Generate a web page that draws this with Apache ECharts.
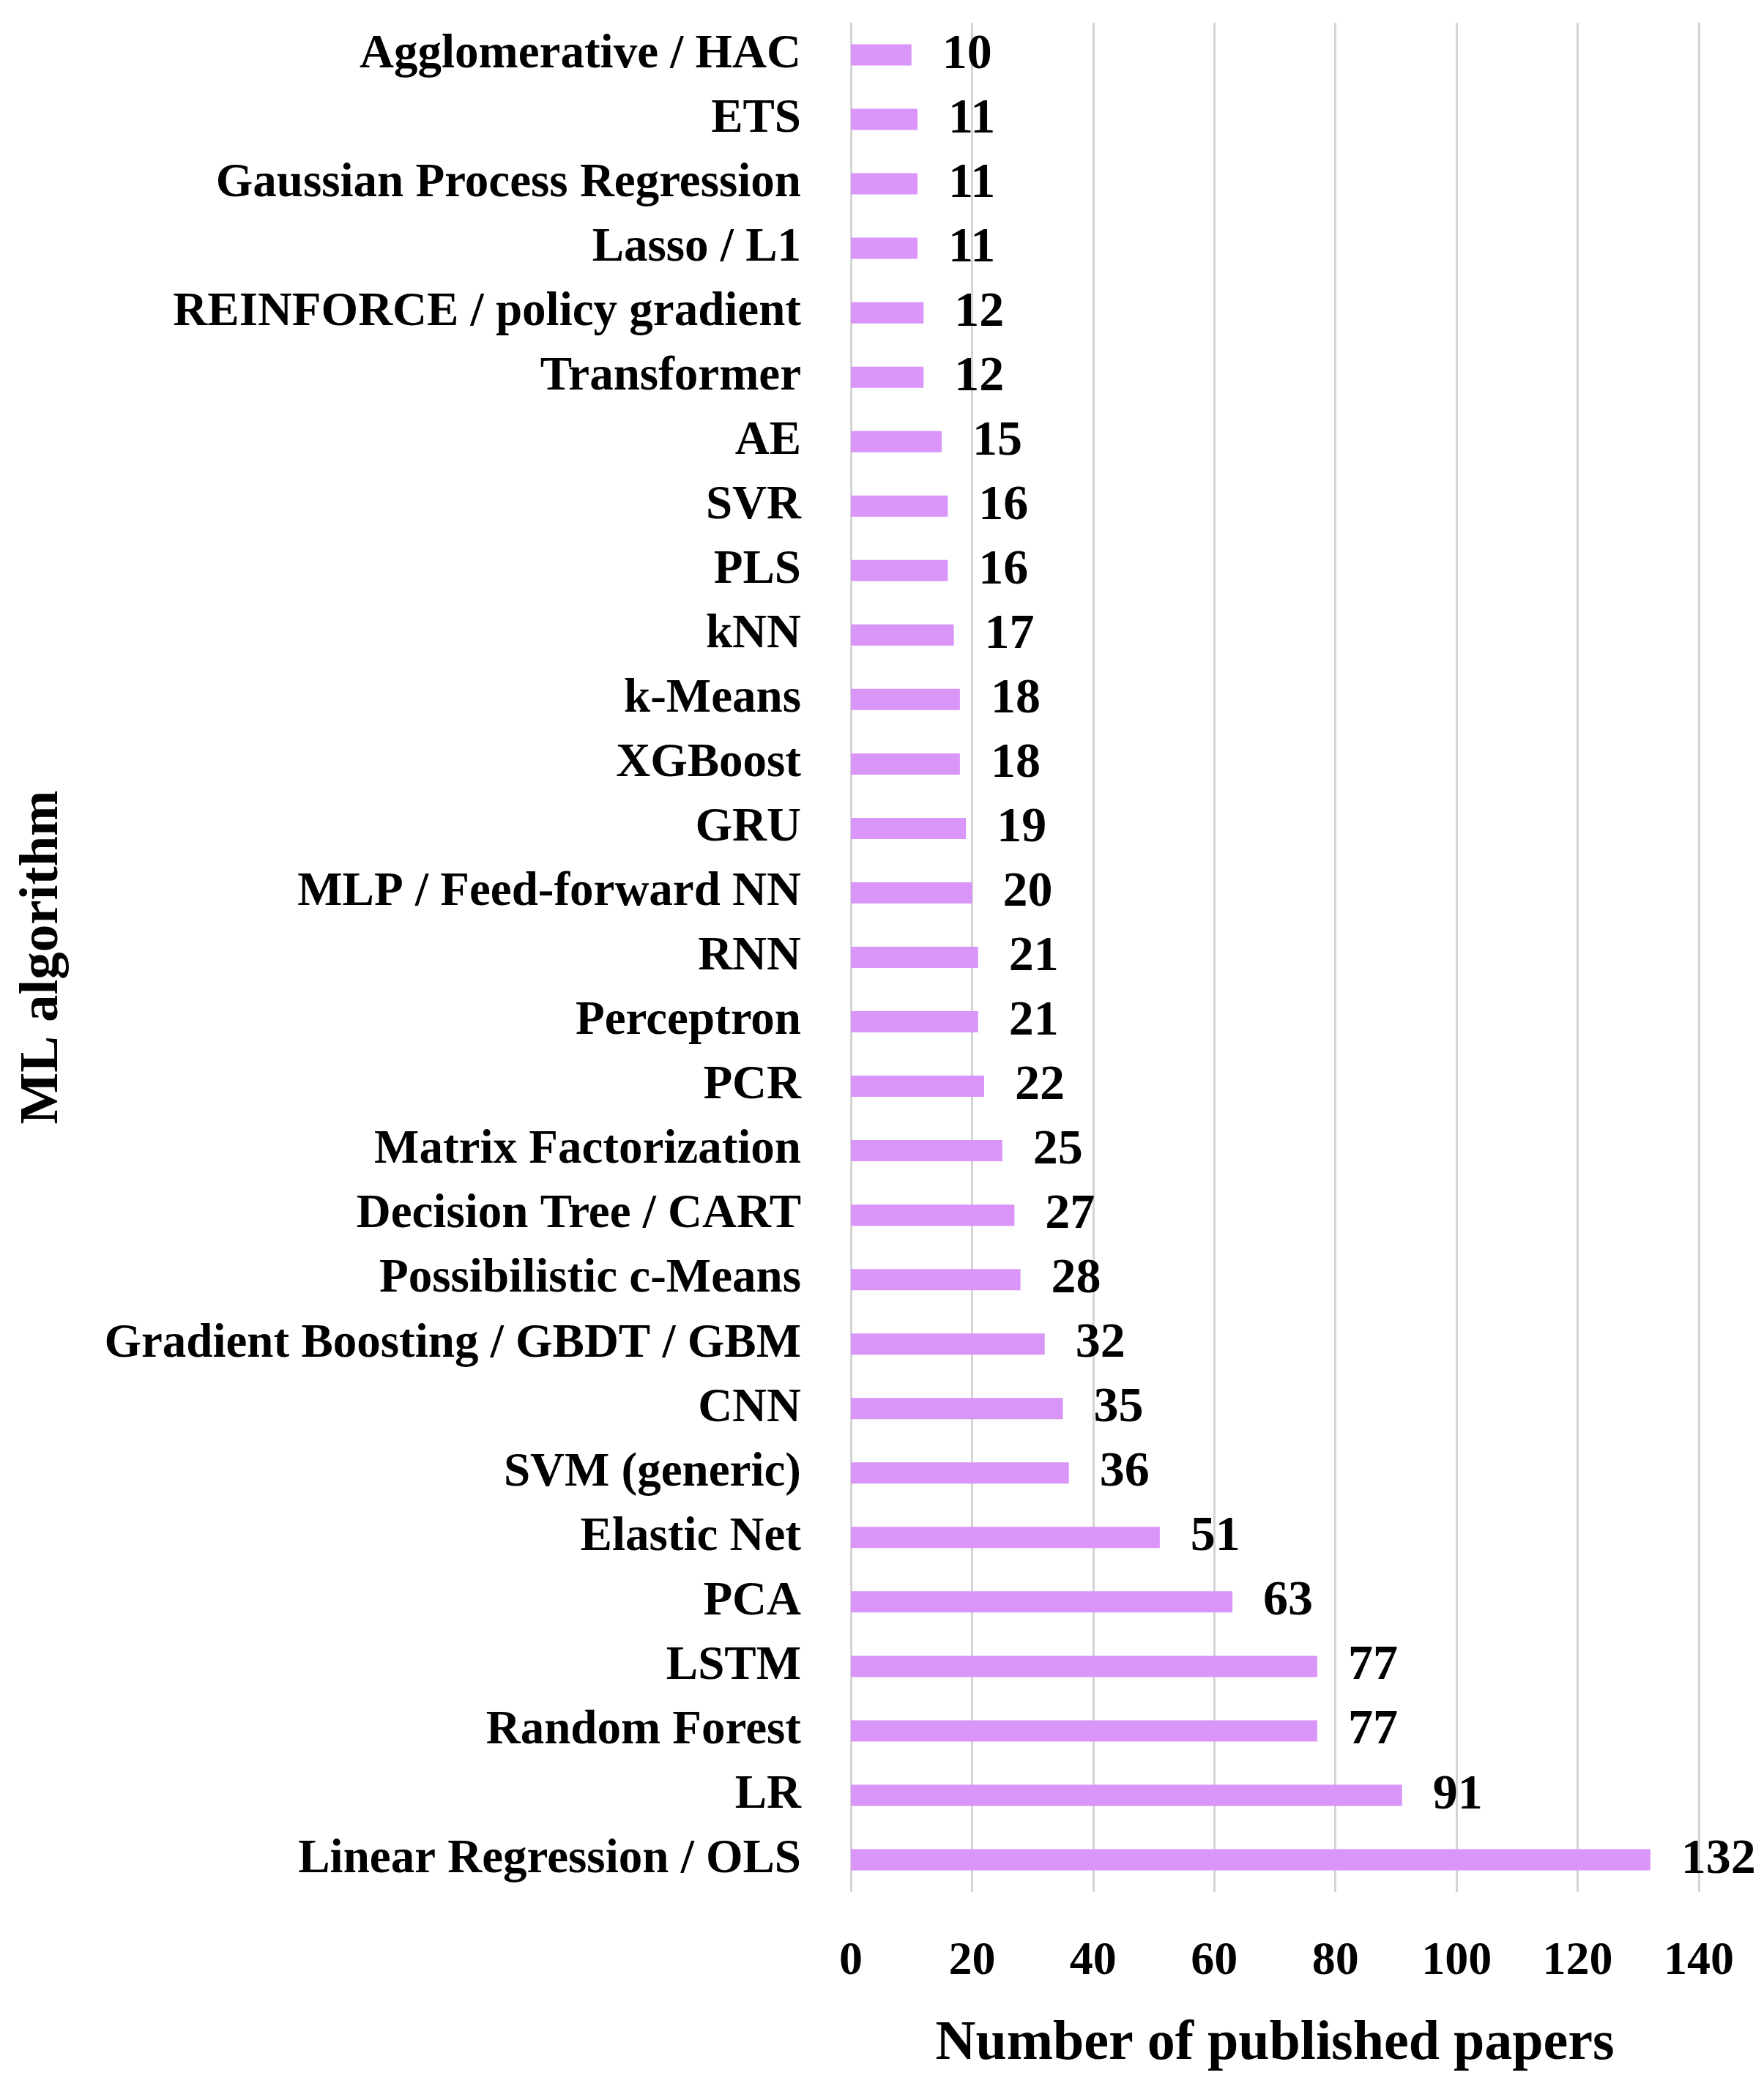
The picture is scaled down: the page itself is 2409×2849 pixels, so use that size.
<!DOCTYPE html>
<html>
<head>
<meta charset="utf-8">
<script src="https://cdn.jsdelivr.net/npm/echarts@6/dist/echarts.min.js"></script>
<style>
  html, body { margin: 0; padding: 0; background: #fff; }
  #chart { width: 2409px; height: 2849px; }
</style>
</head>
<body>
<div id="chart"></div>
<script>
// categories, top to bottom as in the picture
const algoritmos = [
    "Agglomerative / HAC", "ETS", "Gaussian Process Regression", "Lasso / L1",
    "REINFORCE / policy gradient", "Transformer", "AE", "SVR", "PLS", "kNN",
    "k-Means", "XGBoost", "GRU", "MLP / Feed-forward NN", "RNN", "Perceptron",
    "PCR", "Matrix Factorization", "Decision Tree / CART", "Possibilistic c-Means",
    "Gradient Boosting / GBDT / GBM", "CNN", "SVM (generic)", "Elastic Net",
    "PCA", "LSTM", "Random Forest", "LR", "Linear Regression / OLS"
];

// number of published papers per algorithm
const articulos = [
    10, 11, 11, 11, 12, 12, 15, 16, 16, 17,
    18, 18, 19, 20, 21, 21, 22, 25, 27, 28,
    32, 35, 36, 51, 63, 77, 77, 91, 132
];

const ejeX = { min: 0, max: 140, interval: 20 };

const fuente = '"Liberation Serif", "DejaVu Serif", serif';

const chart = echarts.init(document.getElementById('chart'));
chart.setOption({
    animation: false,
    backgroundColor: '#ffffff',
    grid: { left: 1162, right: 89, top: 31, bottom: 265, containLabel: false },
    xAxis: {
        type: 'value',
        min: ejeX.min, max: ejeX.max, interval: ejeX.interval,
        name: 'Number of published papers',
        nameLocation: 'middle',
        nameGap: 170,
        nameTextStyle: { fontFamily: fuente, fontWeight: 'bold', fontSize: 76, color: '#000' },
        axisLine: { show: false },
        axisTick: { show: false },
        axisLabel: { fontFamily: fuente, fontWeight: 'bold', fontSize: 64, color: '#000', margin: 63 },
        splitLine: { show: true, lineStyle: { color: '#d4d4d4', width: 3 } }
    },
    yAxis: {
        type: 'category',
        data: algoritmos,
        inverse: true,
        name: 'ML algorithm',
        nameLocation: 'middle',
        nameGap: 1066,
        nameRotate: 90,
        nameTextStyle: { fontFamily: fuente, fontWeight: 'bold', fontSize: 75, color: '#000' },
        axisLine: { show: false },
        axisTick: { show: false },
        axisLabel: { fontFamily: fuente, fontWeight: 'bold', fontSize: 65, color: '#000', margin: 68 }
    },
    series: [{
        type: 'bar',
        data: articulos,
        barWidth: 29,
        itemStyle: { color: '#d995f8' },
        label: {
            show: true,
            position: 'right',
            distance: 42,
            fontFamily: fuente,
            fontWeight: 'bold',
            fontSize: 68,
            color: '#000'
        }
    }]
});
</script>
</body>
</html>
